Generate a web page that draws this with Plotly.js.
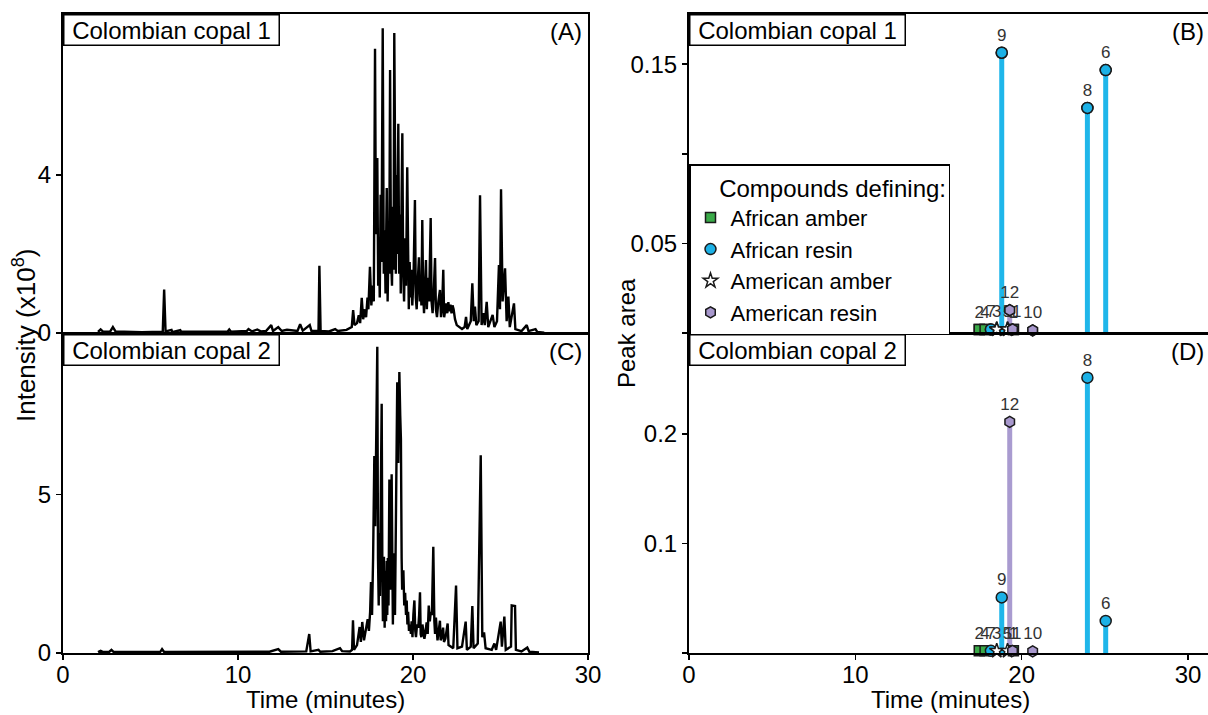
<!DOCTYPE html>
<html>
<head>
<meta charset="utf-8">
<script src="https://cdn.plot.ly/plotly-3.0.1.min.js"></script>
<style>html,body{margin:0;padding:0;background:#fff;}#chart{width:1208px;height:715px;}</style>
</head>
<body>
<div id="chart"></div>
<script>
// ---- Chromatogram, Colombian copal 1 (panel A): time (min), intensity (x10^8)
const timeA = [2.0,2.15,2.3,2.7,2.85,3.0,4.5,5.7,5.78,5.86,6.2,6.25,6.3,6.7,6.75,6.8,9.4,9.5,9.6,10.5,10.6,10.8,11.1,11.3,11.6,11.9,12.0,12.3,12.5,12.8,13.4,13.55,13.7,14.1,14.2,14.6,14.65,14.72,15.2,15.55,15.7,16.2,
  16.5,16.58,16.66,16.8,16.9,16.98,17.07,17.15,17.25,17.32,17.4,17.45,17.54,17.62,17.7,17.76,17.83,17.88,17.92,17.96,18.01,18.06,18.1,18.15,18.2,18.27,18.33,18.38,18.43,18.5,18.55,18.6,18.64,18.69,18.74,18.8,18.85,18.89,18.93,18.98,19.02,19.06,19.1,19.16,19.21,19.26,19.3,19.35,19.39,19.44,19.49,19.55,19.6,19.67,19.72,19.76,19.81,19.86,19.91,19.96,20.03,20.11,20.16,20.21,20.27,20.34,20.39,20.44,20.48,20.53,20.58,20.63,20.69,20.74,20.79,20.86,20.92,20.96,21.01,21.06,21.12,21.18,21.26,21.31,21.37,21.45,21.54,21.6,21.66,21.73,21.78,21.85,21.9,21.96,22.02,22.08,22.14,22.2,22.26,22.32,22.4,22.5,22.65,22.8,22.95,23.03,23.1,
  23.3,23.39,23.47,23.54,23.62,23.75,23.83,23.92,24.02,24.1,24.21,24.3,24.55,24.65,24.8,24.91,24.97,25.03,25.12,25.26,25.35,25.45,25.53,25.77,25.85,26.2,26.5,26.6,27.0,27.1,27.5];
const intA  = [0.03,0.09,0.03,0.04,0.15,0.04,0.02,0.03,1.1,0.04,0.08,0.02,0.03,0.07,0.02,0.03,0.03,0.09,0.03,0.05,0.1,0.04,0.09,0.04,0.05,0.2,0.05,0.15,0.05,0.08,0.05,0.22,0.06,0.2,0.05,0.05,1.7,0.05,0.04,0.1,0.05,0.08,
  0.15,0.58,0.2,0.25,0.45,0.25,0.89,0.35,0.6,0.4,0.9,0.6,1.68,0.7,1.2,0.8,7.2,2.5,3.2,4.43,1.2,2.2,0.9,3.5,1.8,7.72,1.5,2.6,1.0,3.67,0.8,2.3,1.5,6.66,2.0,1.2,3.2,1.6,7.6,2.5,1.5,4.0,2.0,5.3,1.5,3.0,1.0,3.5,5.06,1.5,0.8,2.4,1.2,4.2,1.5,0.6,1.8,0.9,1.6,0.7,1.4,3.37,0.9,0.6,1.3,1.92,0.8,1.3,0.7,2.86,1.0,0.5,1.2,1.85,0.6,1.4,0.8,1.6,2.91,0.8,0.5,1.0,1.9,0.6,0.4,0.8,1.09,0.4,0.6,1.6,0.4,0.6,0.75,0.5,0.78,0.55,0.72,0.5,0.7,0.6,0.35,0.2,0.15,0.1,0.15,0.41,0.1,
  0.3,1.26,0.3,0.67,0.2,0.3,3.49,0.2,0.5,0.2,0.79,0.15,0.46,0.15,0.3,1.72,0.6,3.64,0.8,1.64,0.3,0.92,0.15,0.75,0.1,0.05,0.2,0.05,0.1,0.03,0.01];

// ---- Chromatogram, Colombian copal 2 (panel C)
const timeC = [2.0,2.15,2.3,2.65,2.77,2.9,5.55,5.66,5.78,9.4,10.0,11.8,12.3,12.45,13.9,14.07,14.15,14.6,14.7,15.4,15.83,15.95,16.4,16.52,16.57,16.63,16.8,16.95,17.02,17.1,17.2,
  17.41,17.48,17.55,17.6,17.66,17.72,17.79,17.84,17.9,17.96,18.0,18.04,18.07,18.11,18.16,18.21,18.25,18.28,18.31,18.34,18.38,18.42,18.46,18.5,18.53,18.56,18.6,18.65,18.69,18.72,18.78,18.82,18.85,18.89,18.93,18.97,19.0,19.05,19.1,19.16,19.22,19.27,19.31,19.35,19.38,19.45,19.5,19.55,19.6,19.64,19.68,19.72,19.77,19.83,19.88,19.92,19.97,20.02,20.08,20.13,20.17,20.23,20.3,20.35,20.4,20.44,20.48,20.54,20.6,20.65,20.7,20.78,20.84,20.9,20.96,21.02,21.08,21.16,21.22,21.26,21.31,21.36,21.4,21.47,21.54,21.58,21.64,21.72,21.77,21.85,21.98,22.03,22.15,
  22.3,22.46,22.54,22.8,23.01,23.08,23.3,23.39,23.46,23.7,23.87,23.96,24.06,24.15,24.5,24.65,24.75,25.01,25.08,25.22,25.3,25.6,25.64,25.83,25.88,26.2,26.53,26.65,27.2];
const intC  = [0.03,0.07,0.03,0.04,0.1,0.03,0.03,0.12,0.03,0.03,0.04,0.04,0.12,0.04,0.05,0.6,0.05,0.1,0.04,0.06,0.15,0.06,0.05,0.1,1.03,0.1,0.25,0.82,0.35,0.98,0.4,
  1.07,0.7,1.3,2.24,1.2,3.0,6.22,4.0,6.5,9.67,3.0,1.5,3.79,1.8,5.0,7.87,2.5,1.0,2.8,3.04,0.8,2.6,1.0,2.9,1.2,3.0,1.5,5.48,3.0,2.0,5.64,2.2,0.9,2.8,3.15,1.2,2.5,5.5,8.55,6.0,8.87,7.5,6.75,3.0,2.0,2.61,1.5,1.9,1.2,1.66,0.9,1.3,0.7,0.9,0.6,1.0,0.5,1.2,1.66,0.7,0.5,0.9,0.8,1.2,1.92,0.6,0.5,0.9,0.7,0.45,0.6,0.97,0.6,1.5,1.0,1.3,1.2,3.35,1.0,0.6,1.12,0.5,0.4,0.7,1.02,0.4,0.5,0.8,0.35,0.45,0.93,0.25,0.2,
  0.15,2.13,0.15,0.2,0.99,0.1,0.2,1.48,0.15,0.3,6.24,0.5,0.65,0.15,0.1,0.3,0.1,0.99,0.2,1.15,0.1,0.2,1.5,1.48,0.1,0.05,0.17,0.04,0.02];

// ---- Defining compounds (panels B and D)
const compoundIds      = ['1','2','3','4','5','6','7','8','9','10','11','12'];
const compoundTimes    = [19.5,17.45,18.5,17.8,19.15,25.05,18.15,23.95,18.8,20.66,19.45,19.28];
const compoundCategory = ['African amber','African amber','American amber','African amber','American amber','African resin','African resin','African resin','African resin','American resin','American resin','American resin'];
const areaB = [0.002,0.002,0.002,0.002,0.002,0.1467,0.002,0.1256,0.1564,0.0015,0.002,0.0128];
const areaD = [0.002,0.002,0.002,0.002,0.002,0.0293,0.002,0.2512,0.0507,0.0015,0.002,0.2109];
const categories = ['African amber','African resin','American amber','American resin'];

// ---- tick labels
const ticksA = [0,4], ticksC = [0,5];
const ticksB = [0,0.05,0.1,0.15], tickTextB = ['','0.05','','0.15'];
const ticksD = [0,0.1,0.2], tickTextD = ['','0.1','0.2'];
const ticksTime = [0,10,20,30];

// ---- styles
const FONT = 'Liberation Sans, Arial, Helvetica, sans-serif';
const catStyle = {
  'African amber':  {symbol:'square',  color:'#3aaa48', size:10, stem:'#3aaa48'},
  'African resin':  {symbol:'circle',  color:'#1cb1e6', size:11, stem:'#1fb6ea'},
  'American amber': {symbol:'star',    color:'#ffffff', size:11, stem:'#888888'},
  'American resin': {symbol:'hexagon', color:'#a898cd', size:11, stem:'#a99bd0'}
};

const traces = [];
traces.push({x:timeA, y:intA, xaxis:'x', yaxis:'y', type:'scatter', mode:'lines', line:{color:'#000', width:2.4}, showlegend:false, hoverinfo:'skip'});
traces.push({x:timeC, y:intC, xaxis:'x2', yaxis:'y2', type:'scatter', mode:'lines', line:{color:'#000', width:2.4}, showlegend:false, hoverinfo:'skip'});

function addCompoundPanel(area, xa, ya, legend) {
  traces.push({type:'bar', x:compoundTimes, y:area, xaxis:xa, yaxis:ya, width:0.3,
    marker:{color:compoundCategory.map(c => catStyle[c].stem), line:{width:0}}, showlegend:false, hoverinfo:'skip'});
  categories.forEach(cat => {
    const idx = compoundCategory.map((c,i) => c === cat ? i : -1).filter(i => i >= 0);
    const st = catStyle[cat];
    const mk = {symbol:st.symbol, color:st.color, size:st.size, line:{color:'#1a1a1a', width:1.5}};
    traces.push({type:'scatter', mode:'markers+text', x:idx.map(i=>compoundTimes[i]), y:idx.map(i=>area[i]),
      text:idx.map(i=>compoundIds[i]), textposition:'top center', textfont:{size:17, color:'#333', family:FONT},
      xaxis:xa, yaxis:ya, marker:mk, showlegend:false, cliponaxis:false, hoverinfo:'skip'});
    if (legend) {
      traces.push({type:'scatter', mode:'markers', name:cat, x:idx.map(i=>compoundTimes[i]), y:idx.map(i=>area[i]),
        xaxis:xa, yaxis:ya, marker:mk, showlegend:true, cliponaxis:false, hoverinfo:'skip'});
    }
  });
}
addCompoundPanel(areaB, 'x3', 'y3', true);
addCompoundPanel(areaD, 'x4', 'y4', false);

const W = 1208, H = 715;
const px = v => v / W, py = v => (H - v) / H;
const domL = [px(63), px(588)], domR = [px(689), 1];
const domTop = [py(333), py(14)], domBot = [py(653), py(334)];

const base = {showline:true, linecolor:'#000', linewidth:2, mirror:true, zeroline:false, showgrid:false,
  ticks:'outside', ticklen:5, tickwidth:1.5, tickcolor:'#000', tickfont:{size:24, color:'#000', family:FONT}, fixedrange:true};

const layout = {
  width:W, height:H, margin:{l:0, r:0, t:0, b:0}, paper_bgcolor:'#fff', plot_bgcolor:'#fff',
  font:{family:FONT, color:'#000'}, barmode:'overlay',
  xaxis: Object.assign({}, base, {domain:domL, anchor:'y', range:[0,30], showticklabels:false, ticks:''}),
  yaxis: Object.assign({}, base, {domain:domTop, anchor:'x', range:[0,8.08], tickvals:ticksA}),
  xaxis2: Object.assign({}, base, {domain:domL, anchor:'y2', range:[0,30], tickvals:ticksTime, ticklabelstandoff:-6}),
  yaxis2: Object.assign({}, base, {domain:domBot, anchor:'x2', range:[0,10.07], tickvals:ticksC}),
  xaxis3: Object.assign({}, base, {domain:domR, anchor:'y3', range:[0,31.2], showticklabels:false, ticks:''}),
  yaxis3: Object.assign({}, base, {domain:domTop, anchor:'x3', range:[0,0.178], tickvals:ticksB, ticktext:tickTextB, mirror:false}),
  xaxis4: Object.assign({}, base, {domain:domR, anchor:'y4', range:[0,31.2], tickvals:ticksTime, ticklabelstandoff:-6}),
  yaxis4: Object.assign({}, base, {domain:domBot, anchor:'x4', range:[0,0.291], tickvals:ticksD, ticktext:tickTextD, mirror:false}),
  legend:{x:px(689), xanchor:'left', y:py(164), yanchor:'top', bgcolor:'#fff', bordercolor:'#000', borderwidth:1.5,
    font:{size:22, family:FONT, color:'#000'}, itemwidth:30, tracegroupgap:0,
    title:{text:'\u00a0\u00a0\u00a0\u00a0Compounds defining:', side:'top', font:{size:24, family:FONT, color:'#000'}}},
  annotations:[
    {text:'\u00a0Colombian copal 1\u00a0', xref:'paper', yref:'paper', x:px(63), y:py(14), xanchor:'left', yanchor:'top', showarrow:false, font:{size:24}, bgcolor:'#fff', bordercolor:'#000', borderwidth:1.5, borderpad:1},
    {text:'\u00a0Colombian copal 2\u00a0', xref:'paper', yref:'paper', x:px(63), y:py(334), xanchor:'left', yanchor:'top', showarrow:false, font:{size:24}, bgcolor:'#fff', bordercolor:'#000', borderwidth:1.5, borderpad:1},
    {text:'\u00a0Colombian copal 1\u00a0', xref:'paper', yref:'paper', x:px(689), y:py(14), xanchor:'left', yanchor:'top', showarrow:false, font:{size:24}, bgcolor:'#fff', bordercolor:'#000', borderwidth:1.5, borderpad:1},
    {text:'\u00a0Colombian copal 2\u00a0', xref:'paper', yref:'paper', x:px(689), y:py(334), xanchor:'left', yanchor:'top', showarrow:false, font:{size:24}, bgcolor:'#fff', bordercolor:'#000', borderwidth:1.5, borderpad:1},
    {text:'(A)', xref:'paper', yref:'paper', x:px(584), y:py(32), xanchor:'right', yanchor:'middle', showarrow:false, font:{size:24}},
    {text:'(C)', xref:'paper', yref:'paper', x:px(584), y:py(351), xanchor:'right', yanchor:'middle', showarrow:false, font:{size:24}},
    {text:'(B)', xref:'paper', yref:'paper', x:px(1206), y:py(32), xanchor:'right', yanchor:'middle', showarrow:false, font:{size:24}},
    {text:'(D)', xref:'paper', yref:'paper', x:px(1206), y:py(351), xanchor:'right', yanchor:'middle', showarrow:false, font:{size:24}},
    {text:'Time (minutes)', xref:'paper', yref:'paper', x:px(325.5), y:py(699), xanchor:'center', yanchor:'middle', showarrow:false, font:{size:24}},
    {text:'Time (minutes)', xref:'paper', yref:'paper', x:px(950), y:py(699), xanchor:'center', yanchor:'middle', showarrow:false, font:{size:24}},
    {text:'Intensity (x10<sup>8</sup>)', xref:'paper', yref:'paper', x:px(24), y:py(336), xanchor:'center', yanchor:'middle', textangle:-90, showarrow:false, font:{size:26}},
    {text:'Peak area', xref:'paper', yref:'paper', x:px(627), y:py(333), xanchor:'center', yanchor:'middle', textangle:-90, showarrow:false, font:{size:24}}
  ]
};

Plotly.newPlot('chart', traces, layout, {displayModeBar:false, staticPlot:true});
</script>
</body>
</html>
